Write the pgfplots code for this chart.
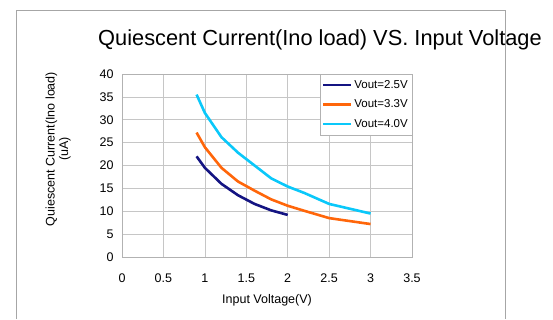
\documentclass[border=0pt]{standalone}
\usepackage{fontspec}
\setmainfont{Liberation Sans}
\usepackage{pgfplots}
\pgfplotsset{compat=1.18}
\definecolor{cblue}{RGB}{20,20,130}
\definecolor{corange}{RGB}{255,102,10}
\definecolor{ccyan}{RGB}{10,200,250}
\begin{document}
\begin{tikzpicture}[x=1pt,y=1pt]
\useasboundingbox (0,0) rectangle (553,319);
\draw[gray!70, line width=0.8pt] (16,0) -- (16,309) -- (505,309) -- (505,0);
\node[font=\fontsize{21.8}{24}\selectfont, anchor=center] at (320,279) {Quiescent Current(Ino load) VS. Input Voltage};
\begin{axis}[
  at={(122pt,62pt)}, anchor=south west,
  scale only axis, width=290pt, height=183pt,
  xmin=0, xmax=3.5, ymin=0, ymax=40,
  xtick={0,0.5,...,3.5}, ytick={0,5,...,40},
  /pgf/number format/assume math mode=true,
  tick label style={font=\fontsize{12.5}{14}\selectfont},
  xticklabel style={yshift=-13pt},
  yticklabel style={xshift=-5pt},
  major tick length=0pt,
  grid=major,
  grid style={gray!45, line width=0.6pt},
  axis line style={gray!60, line width=0.6pt},
  xlabel={Input Voltage(V)},
  ylabel={Quiescent Current(Ino load)\\(uA)},
  xlabel style={font=\fontsize{12.5}{15}\selectfont, at={(axis description cs:0.5,-0.235)}, anchor=center},
  ylabel style={font=\fontsize{12.5}{13.5}\selectfont, align=center, at={(axis description cs:-0.22,0.59)}, anchor=center, rotate=0},
  legend style={at={(rel axis cs:1,1)}, anchor=north east, draw=gray!60, font=\fontsize{11.5}{13}\selectfont, inner xsep=2pt, inner ysep=4pt, row sep=6pt, fill=white},
  legend cell align=left,
  legend image code/.code={\draw[#1] (0pt,0pt) -- (28pt,0pt);},
]
\addplot[cblue, line width=2.6pt] coordinates {
(0.9,22) (1.0,19.5) (1.2,16) (1.4,13.5) (1.6,11.6) (1.8,10.2) (2.0,9.2)};
\addlegendentry{Vout=2.5V}
\addplot[corange, line width=2.6pt] coordinates {
(0.9,27.2) (1.0,24) (1.2,19.5) (1.4,16.5) (1.6,14.5) (1.8,12.6) (2.0,11.2) (2.2,10.1) (2.5,8.5) (3.0,7.2)};
\addlegendentry{Vout=3.3V}
\addplot[ccyan, line width=2.6pt] coordinates {
(0.9,35.5) (1.0,31.5) (1.2,26.2) (1.4,22.8) (1.6,20) (1.8,17.2) (2.0,15.4) (2.2,14) (2.5,11.6) (3.0,9.5)};
\addlegendentry{Vout=4.0V}
\end{axis}
\end{tikzpicture}
\end{document}
